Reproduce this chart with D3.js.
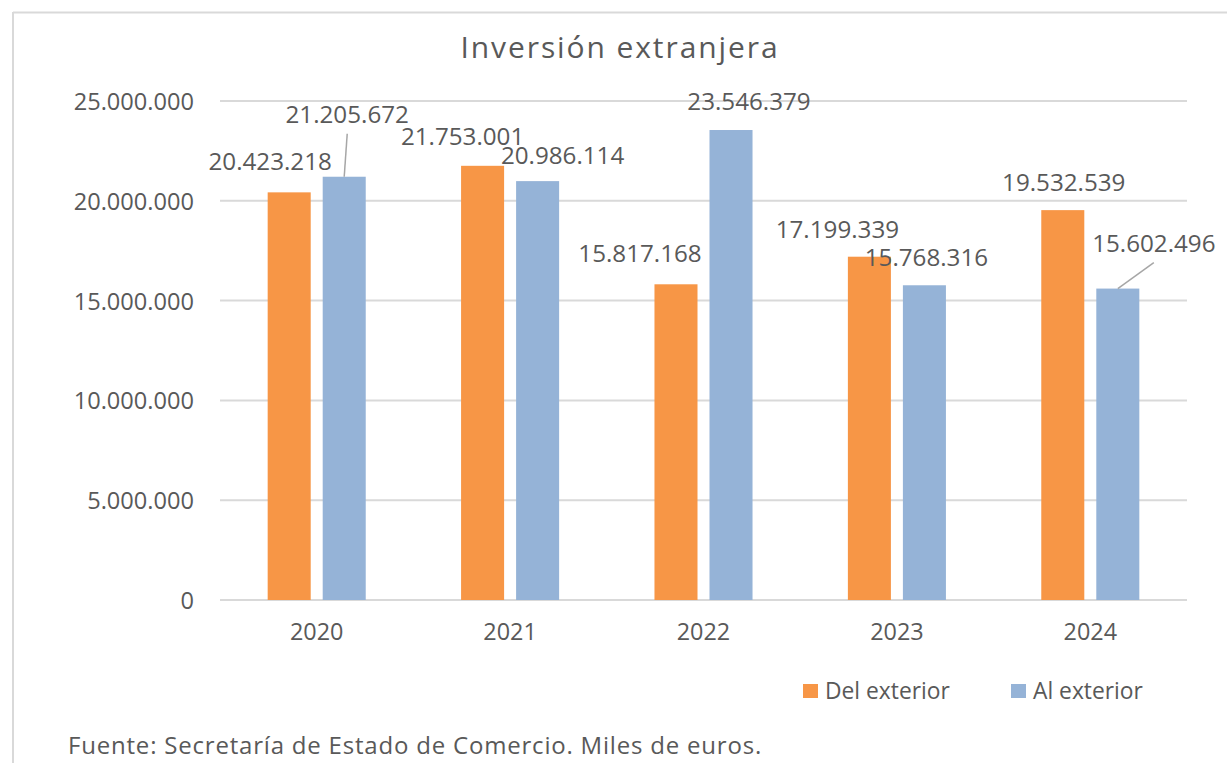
<!DOCTYPE html>
<html>
<head>
<meta charset="utf-8">
<script src="https://cdn.jsdelivr.net/npm/d3@7"></script>
<style>
  body { margin: 0; background: #fff; }
  text { font-family: "Open Sans", sans-serif; fill: #595959; }
</style>
</head>
<body>
<script>
// Chart data
var years = ['2020', '2021', '2022', '2023', '2024'];
var series = ['Del exterior', 'Al exterior'];
var delExterior = [20423218, 21753001, 15817168, 17199339, 19532539];
var alExterior = [21205672, 20986114, 23546379, 15768316, 15602496];
var yTicks = [0, 5000000, 10000000, 15000000, 20000000, 25000000];

var colors = {'Del exterior': '#f79646', 'Al exterior': '#95b3d7'};

// manual label nudges (dx from bar centre, dy of baseline from bar top), leader line flag
var labelNudge = {
  'Del exterior': [[-19, -22, 0], [-20, -21, 0], [-36, -22, 0], [-32, -19, 0], [1, -19, 0]],
  'Al exterior':  [[3, -54, 1], [25, -17, 0], [18, -20, 0], [2, -19, 0], [36, -37, 1]]
};

var width = 1227, height = 763;
var margin = {top: 101, left: 220, right: 40, bottom: 163};

var svg = d3.select(document.body).append('svg')
  .attr('width', width).attr('height', height);

// chart area border (only top and left show in the crop)
svg.append('line').attr('x1', 13).attr('x2', width).attr('y1', 12.5).attr('y2', 12.5)
  .attr('stroke', '#d9d9d9').attr('stroke-width', 2);
svg.append('line').attr('x1', 13).attr('x2', 13).attr('y1', 12).attr('y2', height)
  .attr('stroke', '#d9d9d9').attr('stroke-width', 2);

// title
svg.append('text')
  .attr('x', 620).attr('y', 58)
  .attr('text-anchor', 'middle')
  .style('font-size', '30px')
  .style('letter-spacing', '1.9px')
  .text('Inversión extranjera');

var x0 = d3.scaleBand()
  .domain(years)
  .range([margin.left, width - margin.right])
  .paddingInner(0.493)
  .paddingOuter(0.2465);

var x1 = d3.scaleBand()
  .domain(series)
  .range([0, x0.bandwidth()])
  .paddingInner(0.218);

var y = d3.scaleLinear()
  .domain([0, 25000000])
  .range([height - margin.bottom, margin.top]);

var fmt = d3.formatLocale({decimal: ',', thousands: '.', grouping: [3], currency: ['', '€']}).format(',d');

// grid lines
svg.append('g').selectAll('line')
  .data(yTicks)
  .enter().append('line')
  .attr('x1', margin.left).attr('x2', width - margin.right)
  .attr('y1', function(d) { return y(d); })
  .attr('y2', function(d) { return y(d); })
  .attr('stroke', '#d9d9d9')
  .attr('stroke-width', 2);

// y axis labels
var yAxis = svg.append('g')
  .attr('transform', 'translate(' + (margin.left - 26) + ',0)')
  .call(d3.axisLeft(y).tickValues(yTicks).tickFormat(fmt).tickSize(0).tickPadding(0));
yAxis.select('.domain').remove();
yAxis.selectAll('text').style('font-size', '23.6px').attr('fill', '#595959').attr('dy', '0.36em');

// x axis labels
var xAxis = svg.append('g')
  .attr('transform', 'translate(0,' + (height - margin.bottom) + ')')
  .call(d3.axisBottom(x0).tickSize(0).tickPadding(23));
xAxis.select('.domain').remove();
xAxis.selectAll('text').style('font-size', '23.4px').attr('fill', '#595959');

var values = {'Del exterior': delExterior, 'Al exterior': alExterior};

// bars
var groups = svg.append('g').selectAll('g')
  .data(years)
  .enter().append('g')
  .attr('transform', function(d) { return 'translate(' + x0(d) + ',0)'; });

groups.selectAll('rect')
  .data(function(d, i) { return series.map(function(s) { return {s: s, v: values[s][i], i: i}; }); })
  .enter().append('rect')
  .attr('x', function(d) { return x1(d.s); })
  .attr('y', function(d) { return y(d.v); })
  .attr('width', x1.bandwidth())
  .attr('height', function(d) { return y(0) - y(d.v); })
  .attr('fill', function(d) { return colors[d.s]; });

// data labels and leader lines
var labelData = [];
years.forEach(function(yr, i) {
  series.forEach(function(s) {
    var n = labelNudge[s][i];
    var cx = x0(yr) + x1(s) + x1.bandwidth() / 2;
    labelData.push({v: values[s][i], cx: cx, top: y(values[s][i]), dx: n[0], dy: n[1], leader: n[2]});
  });
});

svg.append('g').selectAll('line')
  .data(labelData.filter(function(d) { return d.leader; }))
  .enter().append('line')
  .attr('x1', function(d) { return d.cx + d.dx; })
  .attr('y1', function(d) { return d.top + d.dy + 11; })
  .attr('x2', function(d) { return d.cx; })
  .attr('y2', function(d) { return d.top; })
  .attr('stroke', '#a6a6a6')
  .attr('stroke-width', 1.5);

svg.append('g').selectAll('text')
  .data(labelData)
  .enter().append('text')
  .attr('x', function(d) { return d.cx + d.dx; })
  .attr('y', function(d) { return d.top + d.dy; })
  .attr('text-anchor', 'middle')
  .style('font-size', '24.2px')
  .text(function(d) { return fmt(d.v); });

// legend
var legendX = [803, 1011];
var legend = svg.append('g').selectAll('g')
  .data(series)
  .enter().append('g')
  .attr('transform', function(d, i) { return 'translate(' + legendX[i] + ',684)'; });
legend.append('rect').attr('width', 15).attr('height', 14)
  .attr('fill', function(d) { return colors[d]; });
legend.append('text').attr('x', 22).attr('y', 15)
  .style('font-size', '22.8px')
  .text(function(d) { return d; });

// source note
svg.append('text')
  .attr('x', 68).attr('y', 754)
  .style('font-size', '24px')
  .style('letter-spacing', '0.8px')
  .text('Fuente: Secretaría de Estado de Comercio. Miles de euros.');
</script>
</body>
</html>
